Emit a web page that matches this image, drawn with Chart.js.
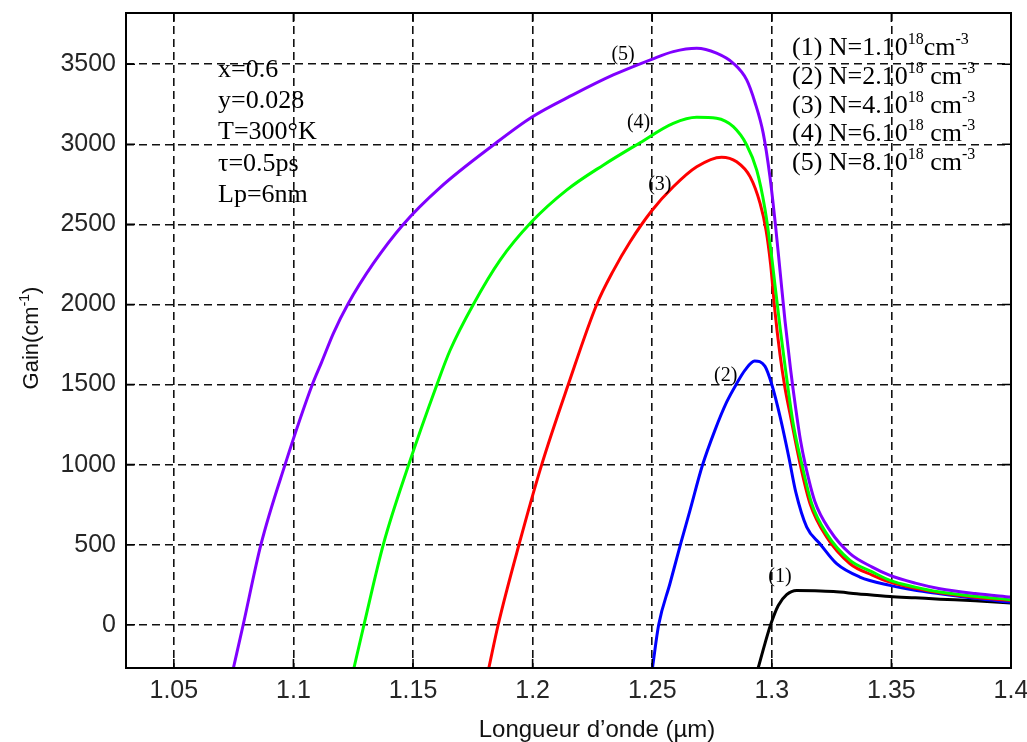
<!DOCTYPE html>
<html>
<head>
<meta charset="utf-8">
<title>Gain spectra</title>
<script src="https://cdn.jsdelivr.net/npm/chart.js@4/dist/chart.umd.min.js"></script>
<style>
  html, body { margin: 0; padding: 0; background: #fff; }
  canvas { display: block; }
</style>
</head>
<body>
<canvas id="c" width="1027" height="742"></canvas>
<script>
// Axis ticks
const xTicks = [1.05, 1.1, 1.15, 1.2, 1.25, 1.3, 1.35, 1.4];
const xTickLabels = ['1.05', '1.1', '1.15', '1.2', '1.25', '1.3', '1.35', '1.4'];
const yTicks = [0, 500, 1000, 1500, 2000, 2500, 3000, 3500];
const yTickLabels = ['0', '500', '1000', '1500', '2000', '2500', '3000', '3500'];

// (1) N = 1e18 cm^-3
const wl1 = [1.2943, 1.2971, 1.2995, 1.3027, 1.3062, 1.3104, 1.3180, 1.3258, 1.3355, 1.3494, 1.3600, 1.3703, 1.3850, 1.4000];
const g1  = [-270, -119, 0, 120, 188, 214, 212, 207, 194, 176, 168, 160, 150, 136];

// (2) N = 2e18 cm^-3
const wl2 = [1.2501, 1.2527, 1.2574, 1.2619, 1.2658, 1.2709, 1.2762, 1.2811, 1.2853, 1.2888, 1.2928, 1.2971, 1.3000, 1.3036, 1.3072, 1.3100, 1.3146, 1.3201, 1.3271, 1.3368, 1.3494, 1.3600, 1.3703, 1.3850, 1.4000];
const g2  = [-270, 0, 256, 506, 714, 991, 1214, 1390, 1506, 1590, 1647, 1615, 1500, 1290, 1040, 830, 610, 506, 381, 298, 246, 215, 194, 165, 141];

// (3) N = 4e18 cm^-3
const wl3 = [1.1817, 1.1856, 1.1943, 1.2038, 1.2149, 1.2268, 1.2337, 1.2407, 1.2498, 1.2588, 1.2686, 1.2790, 1.2853, 1.2909, 1.2951, 1.2976, 1.2995, 1.3013, 1.3034, 1.3055, 1.3076, 1.3118, 1.3160, 1.3229, 1.3327, 1.3420, 1.3494, 1.3600, 1.3703, 1.3850, 1.4000];
const g3  = [-270, 0, 500, 1000, 1500, 2000, 2210, 2390, 2585, 2735, 2860, 2920, 2891, 2798, 2631, 2464, 2250, 1960, 1690, 1480, 1319, 1006, 756, 548, 381, 310, 266, 228, 200, 172, 152];

// (4) N = 6e18 cm^-3
const wl4 = [1.1253, 1.1295, 1.1376, 1.1480, 1.1599, 1.1655, 1.1752, 1.1864, 1.1996, 1.2142, 1.2295, 1.2449, 1.2588, 1.2686, 1.2769, 1.2839, 1.2895, 1.2937, 1.2971, 1.2995, 1.3015, 1.3035, 1.3055, 1.3090, 1.3125, 1.3167, 1.3229, 1.3327, 1.3420, 1.3494, 1.3600, 1.3703, 1.3850, 1.4000];
const g4  = [-270, 0, 502, 991, 1496, 1714, 2000, 2277, 2516, 2714, 2870, 3010, 3131, 3169, 3163, 3110, 2996, 2839, 2600, 2350, 2100, 1850, 1620, 1250, 1006, 756, 569, 402, 330, 277, 235, 204, 178, 156];

// (5) N = 8e18 cm^-3
const wl5 = [1.0749, 1.0790, 1.0864, 1.0965, 1.1079, 1.1118, 1.1167, 1.1227, 1.1334, 1.1459, 1.1613, 1.1836, 1.1996, 1.2170, 1.2337, 1.2498, 1.2588, 1.2686, 1.2769, 1.2839, 1.2895, 1.2930, 1.2964, 1.2992, 1.3015, 1.3035, 1.3055, 1.3078, 1.3100, 1.3120, 1.3140, 1.3180, 1.3243, 1.3327, 1.3420, 1.3494, 1.3600, 1.3703, 1.3850, 1.4000];
const g5  = [-270, 0, 500, 1000, 1500, 1640, 1820, 2000, 2256, 2500, 2730, 2996, 3169, 3310, 3433, 3531, 3579, 3600, 3569, 3506, 3402, 3260, 3070, 2800, 2500, 2200, 1900, 1600, 1350, 1150, 1000, 770, 589, 444, 360, 308, 260, 225, 195, 173];

const curveTags = ['(1)', '(2)', '(3)', '(4)', '(5)'];
const tagAnchorX = [1.3034, 1.2807, 1.2532, 1.2443, 1.2378];
const tagAnchorY = [302, 1552, 2746, 3133, 3558];

const paramLines = ['x=0.6', 'y=0.028', 'T=300°K', 'τ=0.5ps', 'Lp=6nm'];
const densityLabels = ['(1) N=1.10', '(2) N=2.10', '(3) N=4.10', '(4) N=6.10', '(5) N=8.10'];
const unitSep = ['', ' ', ' ', ' ', ' '];

const seriesColors = ['#000000', '#0000ff', '#ff0000', '#00ff00', '#8000ff'];

const xs = [wl1, wl2, wl3, wl4, wl5];
const ys = [g1, g2, g3, g4, g5];

function pts(wl, g) { return wl.map((v, i) => ({ x: v, y: g[i] })); }

// Curve (5) listed first so that it ends up on top of the others
const datasets = [4, 3, 2, 1, 0].map(k => ({
  label: curveTags[k],
  data: pts(xs[k], ys[k]),
  borderColor: seriesColors[k],
  borderWidth: 3,
  pointRadius: 0,
  fill: false,
  cubicInterpolationMode: 'monotone'
}));

const SANS = '"Liberation Sans", Arial, sans-serif';
const SERIF = '"Liberation Serif", "Times New Roman", serif';

// Draws a run of text pieces, some of them raised as exponents
function richText(ctx, parts, x, y, size) {
  let cx = x;
  for (const p of parts) {
    if (p.sup) {
      ctx.font = Math.round(size * 0.62) + 'px ' + p.family;
      ctx.fillText(p.t, cx, y - size * 0.42);
    } else {
      ctx.font = size + 'px ' + p.family;
      ctx.fillText(p.t, cx, y);
    }
    cx += ctx.measureText(p.t).width;
  }
  return cx - x;
}
function richWidth(ctx, parts, size) {
  let w = 0;
  for (const p of parts) {
    ctx.font = (p.sup ? Math.round(size * 0.62) : size) + 'px ' + p.family;
    w += ctx.measureText(p.t).width;
  }
  return w;
}

const decor = {
  id: 'decor',
  afterDraw(chart) {
    const { ctx, chartArea: a, scales: { x, y } } = chart;
    ctx.save();
    ctx.setLineDash([]);
    ctx.strokeStyle = '#000';

    // inward tick marks on all four sides
    ctx.lineWidth = 1.6;
    const tl = 9;
    ctx.beginPath();
    xTicks.forEach(v => {
      const px = x.getPixelForValue(v);
      ctx.moveTo(px, a.bottom); ctx.lineTo(px, a.bottom - tl);
      ctx.moveTo(px, a.top); ctx.lineTo(px, a.top + tl);
    });
    yTicks.forEach(v => {
      const py = y.getPixelForValue(v);
      ctx.moveTo(a.left, py); ctx.lineTo(a.left + tl, py);
      ctx.moveTo(a.right, py); ctx.lineTo(a.right - tl, py);
    });
    ctx.stroke();

    // axes box
    ctx.lineWidth = 2;
    ctx.strokeRect(a.left, a.top, a.right - a.left, a.bottom - a.top);

    ctx.fillStyle = '#000';

    // curve numbers
    ctx.font = '20px ' + SERIF;
    ctx.textAlign = 'center';
    ctx.textBaseline = 'middle';
    curveTags.forEach((t, i) => {
      ctx.fillText(t, x.getPixelForValue(tagAnchorX[i]), y.getPixelForValue(tagAnchorY[i]));
    });

    // material / simulation parameters
    ctx.textAlign = 'left';
    ctx.textBaseline = 'alphabetic';
    ctx.font = '26px ' + SERIF;
    paramLines.forEach((t, i) => {
      ctx.fillText(t, a.left + 92, a.top + 64 + i * 31.2);
    });

    // carrier densities
    densityLabels.forEach((t, i) => {
      richText(ctx, [
        { t: t, family: SERIF },
        { t: '18', family: SERIF, sup: true },
        { t: unitSep[i] + 'cm', family: SERIF },
        { t: '-3', family: SERIF, sup: true }
      ], 792, a.top + 42 + i * 28.8, 26);
    });

    // axis titles
    ctx.fillStyle = '#111';
    const xt = [{ t: 'Longueur d’onde (µm)', family: SANS }];
    const xw = richWidth(ctx, xt, 24);
    richText(ctx, xt, 597 - xw / 2, 737, 24);

    const yt = [
      { t: 'Gain(cm', family: SANS },
      { t: '-1', family: SANS, sup: true },
      { t: ')', family: SANS }
    ];
    ctx.save();
    ctx.translate(38, 338);
    ctx.rotate(-Math.PI / 2);
    const yw = richWidth(ctx, yt, 22);
    richText(ctx, yt, -yw / 2, 0, 22);
    ctx.restore();

    ctx.restore();
  }
};

new Chart(document.getElementById('c'), {
  type: 'line',
  data: { datasets },
  options: {
    responsive: false,
    animation: false,
    events: [],
    layout: { padding: { top: 13, right: 16, left: 0, bottom: 0 } },
    plugins: { legend: { display: false }, tooltip: { enabled: false } },
    scales: {
      x: {
        type: 'linear',
        min: 1.03,
        max: 1.4,
        afterBuildTicks: s => { s.ticks = xTicks.map(v => ({ value: v })); },
        afterFit: s => { s.height = 74; s.paddingLeft = 0; s.paddingRight = 0; },
        ticks: {
          padding: 8,
          color: '#262626',
          font: { family: SANS, size: 25 },
          maxRotation: 0,
          autoSkip: false,
          callback: (v, i) => xTickLabels[i]
        },
        grid: { color: '#111', lineWidth: 1.6, drawTicks: false },
        border: { display: false, dash: [8, 5] }
      },
      y: {
        type: 'linear',
        min: -270,
        max: 3820,
        afterBuildTicks: s => { s.ticks = yTicks.map(v => ({ value: v })); },
        afterFit: s => { s.width = 126; s.paddingTop = 0; s.paddingBottom = 0; },
        ticks: {
          padding: 10,
          color: '#262626',
          font: { family: SANS, size: 25 },
          autoSkip: false,
          callback: (v, i) => yTickLabels[i]
        },
        grid: { color: '#111', lineWidth: 1.6, drawTicks: false },
        border: { display: false, dash: [8, 5] }
      }
    }
  },
  plugins: [decor]
});
</script>
</body>
</html>
